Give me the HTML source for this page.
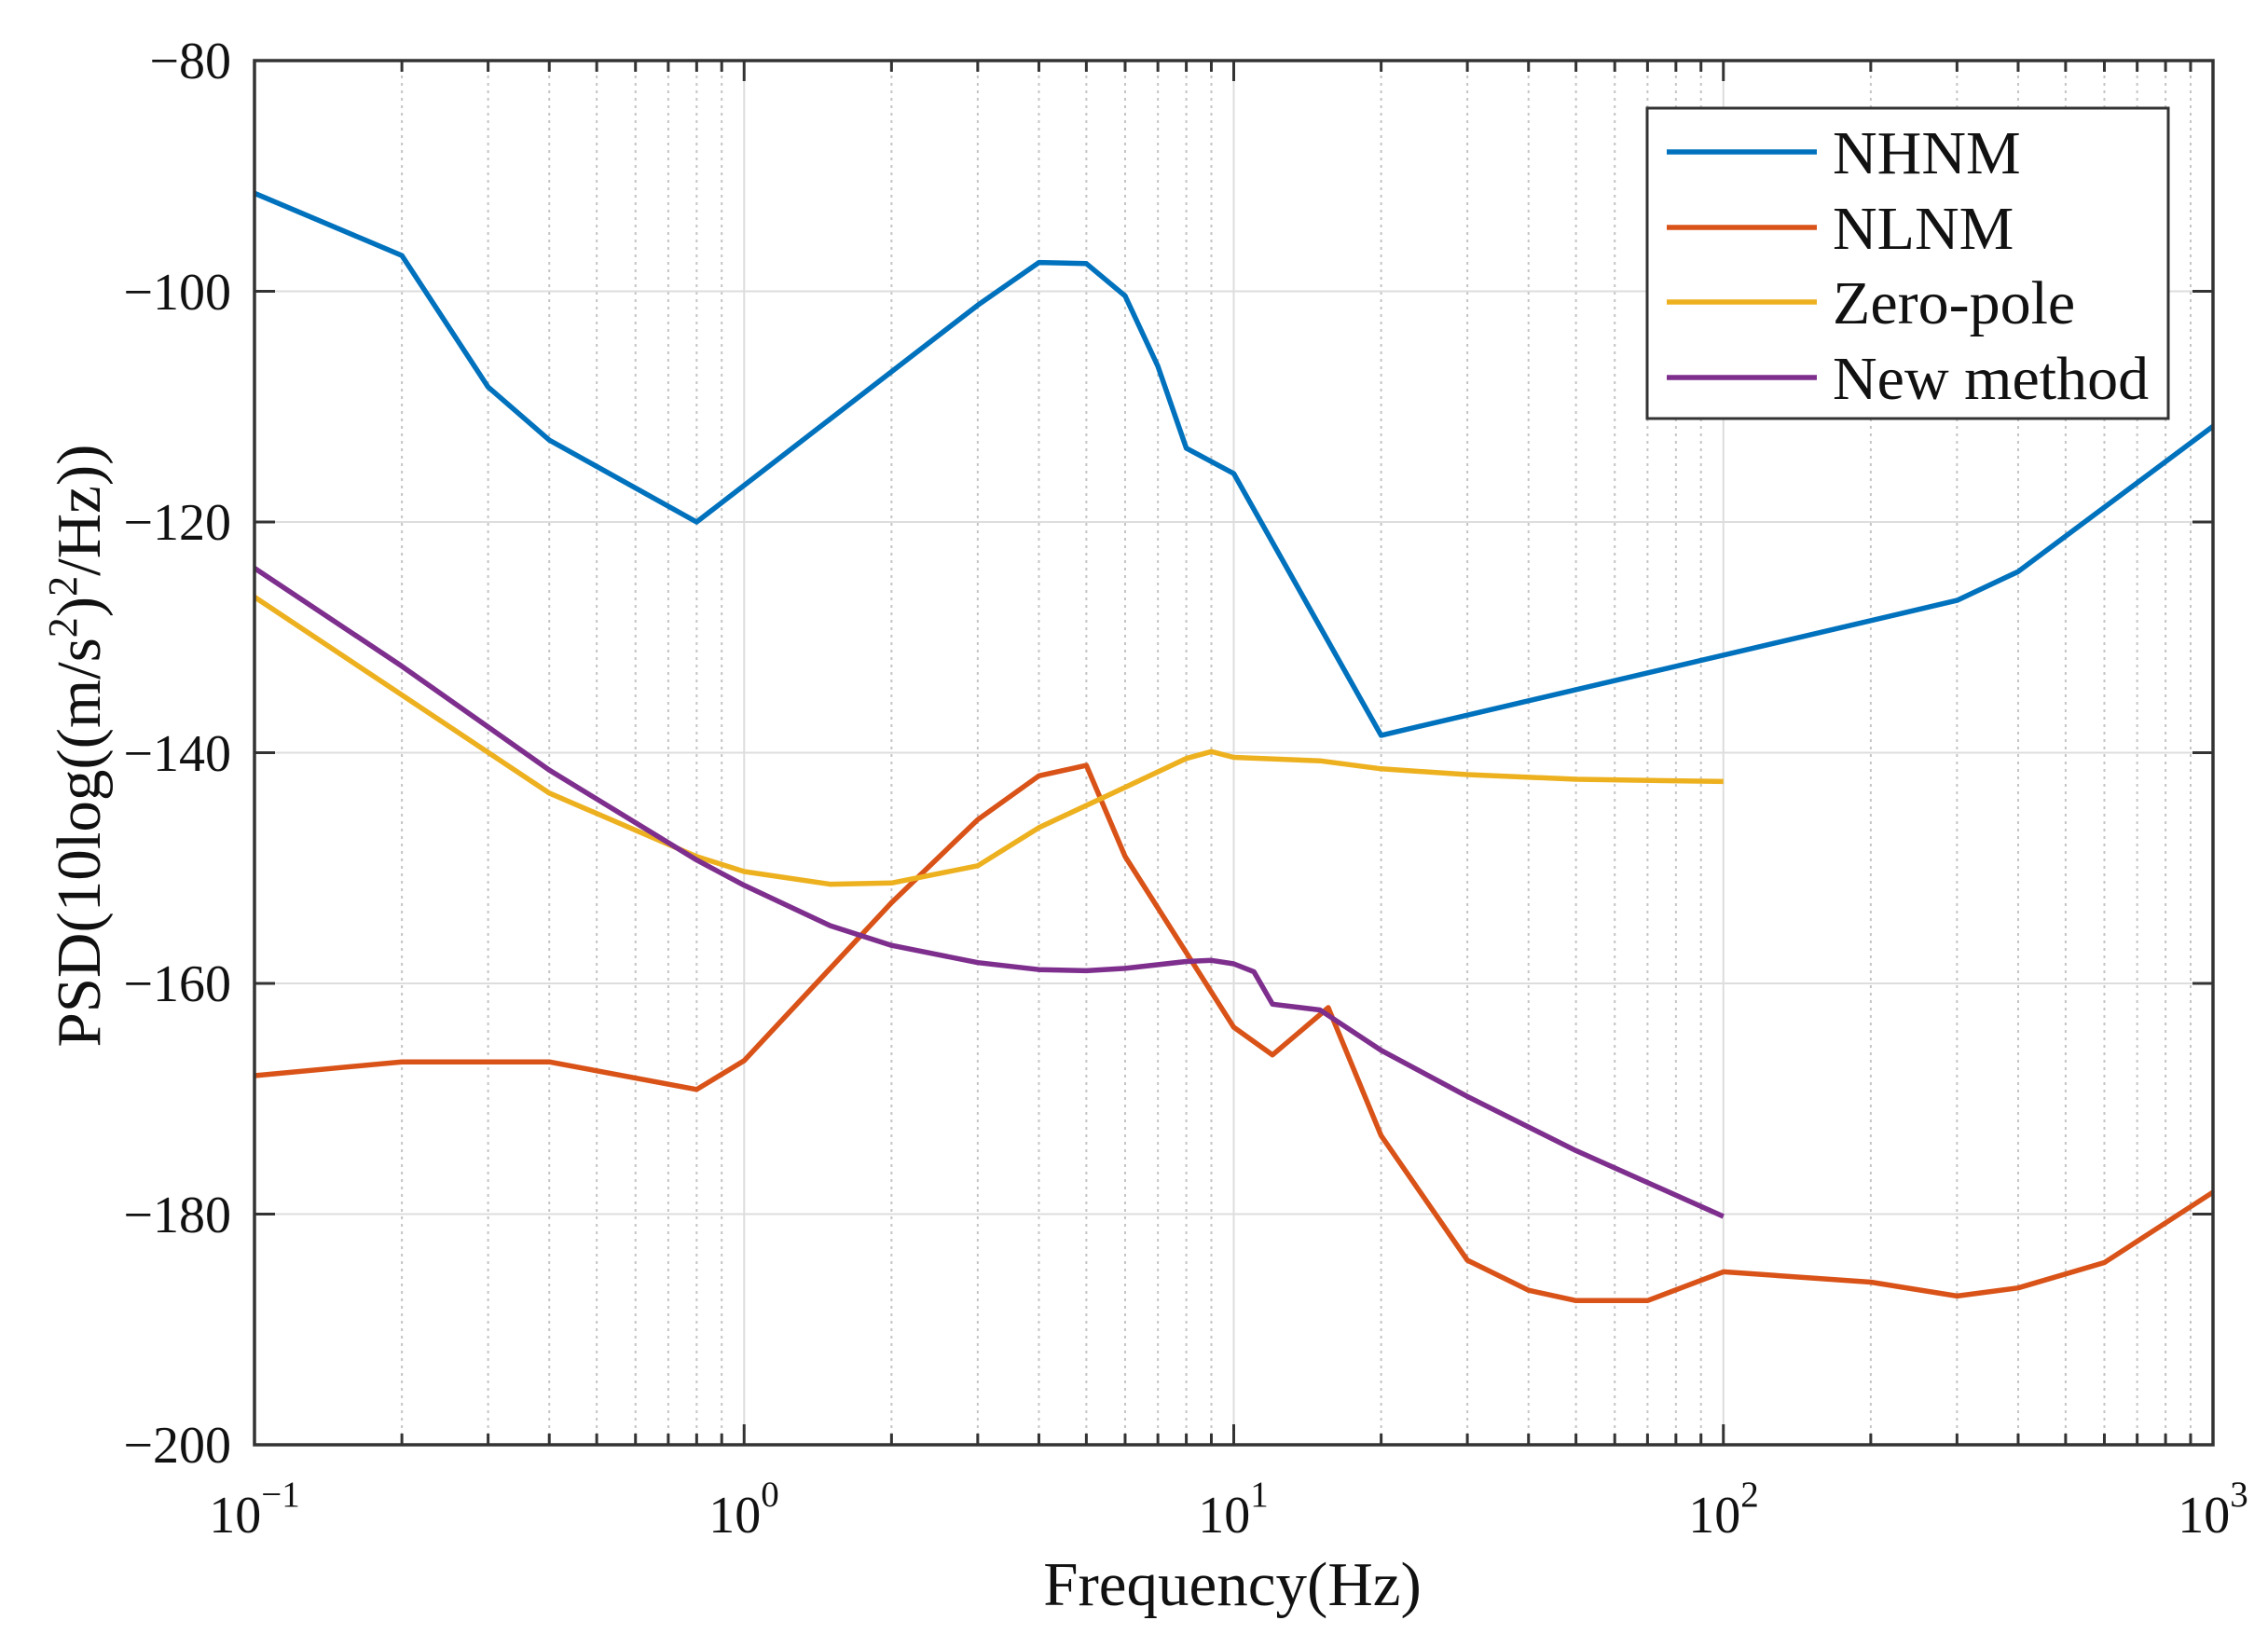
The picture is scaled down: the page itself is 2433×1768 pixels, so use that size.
<!DOCTYPE html>
<html><head><meta charset="utf-8"><style>html,body{margin:0;padding:0;background:#fff}svg{display:block}</style></head>
<body>
<svg id="s" xmlns="http://www.w3.org/2000/svg" width="2433" height="1768" viewBox="0 0 2433 1768" font-family="Liberation Serif, serif">
<rect width="2433" height="1768" fill="#fff"/>
<g id="grid"></g>
<g id="series" fill="none" stroke-width="5.5" stroke-linejoin="round"></g>
<g id="axes"></g>
<g fill="#111" font-size="56" text-anchor="end">
<text x="248" y="84">−80</text>
<text x="248" y="332">−100</text>
<text x="248" y="579">−120</text>
<text x="248" y="827">−140</text>
<text x="248" y="1074">−160</text>
<text x="248" y="1322">−180</text>
<text x="248" y="1569">−200</text>
</g>
<g fill="#111" font-size="56" text-anchor="middle">
<text x="273" y="1644">10<tspan font-size="39" dy="-28">−1</tspan></text>
<text x="798" y="1644">10<tspan font-size="39" dy="-28">0</tspan></text>
<text x="1323" y="1644">10<tspan font-size="39" dy="-28">1</tspan></text>
<text x="1849" y="1644">10<tspan font-size="39" dy="-28">2</tspan></text>
<text x="2374" y="1644">10<tspan font-size="39" dy="-28">3</tspan></text>
</g>
<text x="1322" y="1722" font-size="67" text-anchor="middle" fill="#111">Frequency(Hz)</text>
<text transform="translate(107,800) rotate(-90)" font-size="67" text-anchor="middle" fill="#111">PSD(10log((m/s<tspan font-size="44" dy="-25">2</tspan><tspan dy="25">)</tspan><tspan font-size="44" dy="-25">2</tspan><tspan dy="25">/Hz))</tspan></text>
<g id="legend">
<rect x="1767" y="116" width="559" height="333" fill="#fff" stroke="#333" stroke-width="3"/>
<line x1="1788" y1="163" x2="1949" y2="163" stroke="#0072BD" stroke-width="5.5"/>
<line x1="1788" y1="244" x2="1949" y2="244" stroke="#D95319" stroke-width="5.5"/>
<line x1="1788" y1="324" x2="1949" y2="324" stroke="#EDB120" stroke-width="5.5"/>
<line x1="1788" y1="405" x2="1949" y2="405" stroke="#7E2F8E" stroke-width="5.5"/>
<g font-size="66" fill="#111">
<text x="1966" y="186">NHNM</text>
<text x="1966" y="267">NLNM</text>
<text x="1966" y="347">Zero-pole</text>
<text x="1966" y="428">New method</text>
</g>
</g>
<script>
var L=273,R=2374,T=65,B=1550,D=(R-L)/4;
function X(f){return L+(Math.log10(f)+1)*D}
function Y(v){return T+(-80-v)/120*(B-T)}
var ns="http://www.w3.org/2000/svg",g=document.getElementById('grid'),a=document.getElementById('axes'),s=document.getElementById('series');
function el(p,t,at){var e=document.createElementNS(ns,t);for(var k in at)e.setAttribute(k,at[k]);p.appendChild(e);return e}
for(var d=-1;d<3;d++)for(var m=2;m<10;m++){var x=X(m*Math.pow(10,d));
el(g,'line',{x1:x,x2:x,y1:T,y2:B,stroke:'#c4c4c4','stroke-width':2,'stroke-dasharray':'3,5'});
el(a,'line',{x1:x,x2:x,y1:B,y2:B-12,stroke:'#333','stroke-width':3});
el(a,'line',{x1:x,x2:x,y1:T,y2:T+12,stroke:'#333','stroke-width':3});}
for(var d=0;d<3;d++){var x=X(Math.pow(10,d));
el(g,'line',{x1:x,x2:x,y1:T,y2:B,stroke:'#ddd','stroke-width':2});
el(a,'line',{x1:x,x2:x,y1:B,y2:B-22,stroke:'#333','stroke-width':3});
el(a,'line',{x1:x,x2:x,y1:T,y2:T+22,stroke:'#333','stroke-width':3});}
for(var v=-100;v>-200;v-=20){var y=Y(v);
el(g,'line',{x1:L,x2:R,y1:y,y2:y,stroke:'#ddd','stroke-width':2});
el(a,'line',{x1:L,x2:L+22,y1:y,y2:y,stroke:'#333','stroke-width':3});
el(a,'line',{x1:R,x2:R-22,y1:y,y2:y,stroke:'#333','stroke-width':3});}
el(a,'rect',{x:L,y:T,width:R-L,height:B-T,fill:'none',stroke:'#333','stroke-width':3.5});
var S=[
['#0072BD',[[0.1,-91.5],[0.2,-96.9],[0.3,-108.3],[0.4,-112.9],[0.8,-120],[3,-101.2],[4,-97.5],[5,-97.6],[6,-100.4],[7,-106.5],[8,-113.6],[10,-115.8],[20,-138.5],[300,-126.8],[400,-124.3],[1000,-111.7]]],
['#D95319',[[0.1,-168],[0.2,-166.8],[0.4,-166.8],[0.8,-169.2],[1,-166.7],[2,-153],[3,-145.8],[4,-142],[5,-141.1],[6,-149],[10,-163.8],[12,-166.2],[15.6,-162.1],[20,-173.2],[30,-184],[40,-186.6],[50,-187.5],[70,-187.5],[100,-185],[200,-185.9],[300,-187.1],[400,-186.4],[600,-184.2],[1000,-178.1]]],
['#EDB120',[[0.1,-126.5],[0.2,-135],[0.4,-143.5],[0.8,-149],[1,-150.3],[1.5,-151.4],[2,-151.3],[3,-149.8],[4,-146.5],[6,-143],[8,-140.5],[9,-139.9],[10,-140.4],[15,-140.7],[20,-141.4],[30,-141.9],[50,-142.3],[100,-142.5]]],
['#7E2F8E',[[0.1,-124],[0.2,-132.5],[0.4,-141.5],[0.8,-149.3],[1,-151.5],[1.5,-155],[2,-156.7],[3,-158.2],[4,-158.8],[5,-158.9],[6,-158.7],[8,-158.1],[9,-158],[10,-158.3],[11,-159],[12,-161.8],[15,-162.3],[20,-165.8],[30,-169.8],[50,-174.5],[100,-180.2]]]];
S.forEach(function(q){el(s,'polyline',{stroke:q[0],points:q[1].map(function(p){return X(p[0]).toFixed(1)+','+Y(p[1]).toFixed(1)}).join(' ')})});
</script>
</svg>
</body></html>
